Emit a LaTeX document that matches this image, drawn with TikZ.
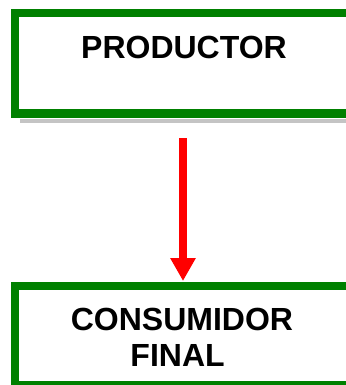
\documentclass[tikz,border=0pt]{standalone}
\usepackage{fontspec}
\setmainfont{Liberation Sans}
\usetikzlibrary{arrows.meta}
\definecolor{boxgreen}{HTML}{008000}
\definecolor{shadowgray}{HTML}{C4C4C4}
\definecolor{arrowred}{HTML}{FF0000}
\tikzset{
  greenbox/.style={draw=boxgreen, line width=8pt, fill=white},
  label/.style={font=\fontsize{32pt}{36pt}\selectfont\bfseries, inner sep=0pt},
}
\begin{document}
\begin{tikzpicture}[x=1pt,y=-1pt]
\useasboundingbox (0,0) rectangle (345,385);
% top box shadow and box
\fill[shadowgray] (20,119) rectangle (370,123.3);
\draw[greenbox] (15,13.5) rectangle (370,113.5);
\node[label, anchor=base] (prod) at (184,59) {PRODUCTOR};
% bottom box
\draw[greenbox] (15,286) rectangle (370,385);
\node[label, anchor=base, align=center] (cons) at (182,366) {CONSUMIDOR\\FINAL\hspace*{0.278em}};
% arrow
\coordinate (a1) at (183,138);
\coordinate (a2) at (183,281);
\draw[arrowred, line width=8pt, -{Triangle[length=23pt 0 0,width=24pt 0 0]}] (a1) -- (a2);
\end{tikzpicture}
\end{document}
